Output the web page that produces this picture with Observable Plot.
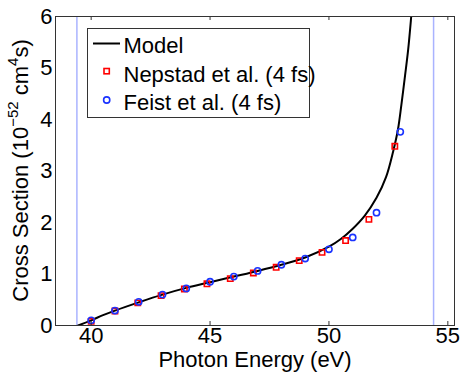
<!DOCTYPE html>
<html><head><meta charset="utf-8">
<script src="https://cdn.jsdelivr.net/npm/d3@7"></script>
<script src="https://cdn.jsdelivr.net/npm/@observablehq/plot@0.6"></script>
<style>body{margin:0;background:#fff;} svg{display:block;}</style>
</head><body><div id="chart"></div>
<script>
// Model curve (photon energy in eV, cross section in 1e-52 cm^4 s)
const modelEnergy  = [39.45, 40.0, 40.5, 41.0, 42.0, 43.0, 44.0, 45.0, 46.0, 47.0, 48.0, 49.0, 50.0, 50.5, 51.0, 51.5, 52.0, 52.4, 52.7, 52.9, 53.05, 53.2, 53.33, 53.46, 53.55];
const modelSection = [0.0, 0.10, 0.20, 0.29, 0.45, 0.60, 0.73, 0.84, 0.95, 1.06, 1.18, 1.32, 1.53, 1.68, 1.88, 2.13, 2.48, 2.88, 3.38, 3.80, 4.30, 4.85, 5.35, 6.0, 6.5];
// Nepstad et al. (4 fs)
const nepstadEnergy  = [40.0, 41.0, 41.96, 42.94, 43.92, 44.87, 45.85, 46.82, 47.78, 48.75, 49.71, 50.70, 51.68, 52.77];
const nepstadSection = [0.08, 0.28, 0.44, 0.58, 0.71, 0.81, 0.91, 1.02, 1.13, 1.26, 1.42, 1.65, 2.06, 3.48];
// Feist et al. (4 fs)
const feistEnergy  = [40, 41, 42, 43, 44, 45, 46, 47, 48, 49, 50, 51, 52, 53];
const feistSection = [0.10, 0.29, 0.46, 0.60, 0.72, 0.85, 0.95, 1.06, 1.18, 1.30, 1.48, 1.71, 2.19, 3.76];
// Thresholds (vertical lines)
const thresholds = [39.4, 54.4];
const xTicks = [40, 45, 50, 55];
const yTicks = [0, 1, 2, 3, 4, 5, 6];
const seriesNames = ["Model", "Nepstad et al. (4 fs)", "Feist et al. (4 fs)"];
const xLabel = "Photon Energy (eV)";

const model = modelEnergy.map((x, i) => ({x, y: modelSection[i]}));
const nepstad = nepstadEnergy.map((x, i) => ({x, y: nepstadSection[i]}));
const feist = feistEnergy.map((x, i) => ({x, y: feistSection[i]}));

const font = "'Liberation Sans', Arial, Helvetica, sans-serif";
const plot = Plot.plot({
  width: 463, height: 375,
  marginLeft: 55, marginRight: 9, marginTop: 16, marginBottom: 50,
  style: {fontFamily: font, fontSize: "22px", background: "#fff", color: "#000", overflow: "visible"},
  x: {domain: [38.5, 55.28]},
  y: {domain: [0, 6]},
  marks: [
    Plot.ruleX(thresholds, {stroke: "#aab3ff", strokeWidth: 1.5}),
    Plot.line(model, {x: "x", y: "y", stroke: "#000", strokeWidth: 2, curve: "catmull-rom", clip: true}),
    Plot.dot(nepstad, {x: "x", y: "y", symbol: "square", r: 3, stroke: "#ff0000", strokeWidth: 1.6, fill: "none"}),
    Plot.dot(feist, {x: "x", y: "y", symbol: "circle", r: 3.1, stroke: "#1a33ff", strokeWidth: 1.6, fill: "none"}),
    Plot.ruleX(xTicks, {insetTop: 305, stroke: "#333", strokeWidth: 1}),
    Plot.ruleX(xTicks, {insetBottom: 305, stroke: "#333", strokeWidth: 1}),
    Plot.frame({stroke: "#333", strokeWidth: 1}),
    Plot.axisX(xTicks, {tickSize: 0, tickPadding: 2, label: null, fontSize: 22, tickFormat: d3.format("d")}),
    Plot.axisY(yTicks, {tickSize: 0, tickPadding: 3, label: null, fontSize: 22, tickFormat: d3.format("d")}),
    Plot.text([xLabel], {frameAnchor: "bottom", dy: 34, text: d => d, fontSize: 22, lineAnchor: "middle"})
  ]
});
document.getElementById("chart").appendChild(plot);

const svg = d3.select(plot);
// Y axis label with superscripts
const yl = svg.append("text")
  .attr("transform", "translate(28,170.5) rotate(-90)")
  .attr("text-anchor", "middle")
  .style("font-family", font).style("font-size", "22px").attr("fill", "#000");
yl.append("tspan").text("Cross Section (10");
yl.append("tspan").attr("dy", -10).style("font-size", "15px").text("\u221252");
yl.append("tspan").attr("dy", 10).text(" cm");
yl.append("tspan").attr("dy", -10).style("font-size", "15px").text("4");
yl.append("tspan").attr("dy", 10).text("s)");

// Legend
const lg = svg.append("g").style("font-family", font).style("font-size", "22px").attr("text-anchor", "start");
lg.append("rect").attr("x", 87.5).attr("y", 28.5).attr("width", 222).attr("height", 89)
  .attr("fill", "#fff").attr("stroke", "#333").attr("stroke-width", 1);
const rowBase = [53.3, 81.7, 110];
lg.append("line").attr("x1", 93).attr("x2", 120).attr("y1", 43.5).attr("y2", 43.5)
  .attr("stroke", "#000").attr("stroke-width", 2);
lg.append("rect").attr("x", 104).attr("y", 68.5).attr("width", 5.3).attr("height", 5.3)
  .attr("fill", "none").attr("stroke", "#ff0000").attr("stroke-width", 1.6);
lg.append("circle").attr("cx", 106.7).attr("cy", 100).attr("r", 3.1)
  .attr("fill", "none").attr("stroke", "#1a33ff").attr("stroke-width", 1.6);
seriesNames.forEach((s, i) => {
  lg.append("text").attr("x", 123.5).attr("y", rowBase[i]).attr("fill", "#000").attr("text-anchor", "start").text(s);
});
</script>
</body></html>
